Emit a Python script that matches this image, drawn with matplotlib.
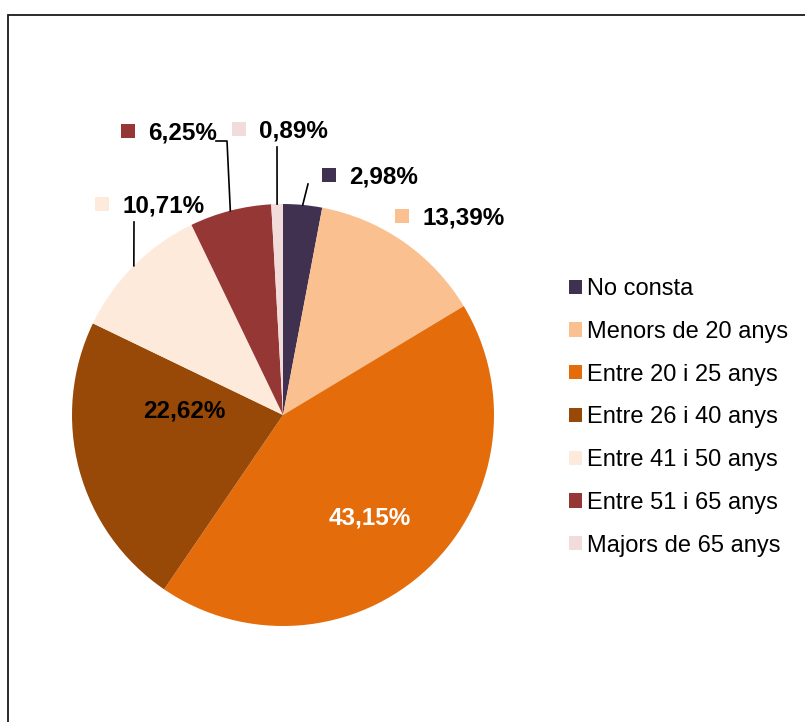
import numpy as np
import matplotlib.pyplot as plt
from matplotlib.patches import Rectangle, Patch

categories = ["No consta", "Menors de 20 anys", "Entre 20 i 25 anys",
              "Entre 26 i 40 anys", "Entre 41 i 50 anys",
              "Entre 51 i 65 anys", "Majors de 65 anys"]
values = [2.98, 13.39, 43.15, 22.62, 10.71, 6.25, 0.89]
labels = ["2,98%", "13,39%", "43,15%", "22,62%", "10,71%", "6,25%", "0,89%"]
colors = ["#403151", "#FAC090", "#E46C0A", "#984807",
          "#FDEADA", "#953735", "#F2DCDB"]

W, H = 805, 722
fig = plt.figure(figsize=(W / 100, H / 100), dpi=100)
plt.rcParams['font.family'] = ['Liberation Sans', 'DejaVu Sans']

# pie centre (283, 415) px, radius 211 px
cx, cy, r = 283, 415, 211
ax = fig.add_axes([(cx - r) / W, (H - cy - r) / H, 2 * r / W, 2 * r / H])
wedges, _ = ax.pie(values, colors=colors, startangle=90, counterclock=False,
                   radius=1, wedgeprops=dict(linewidth=0))
ax.set_xlim(-1, 1)
ax.set_ylim(-1, 1)
ax.set_aspect('equal')
ax.axis('off')


def px(x, y):
    return ((x - cx) / r, (cy - y) / r)


# outside labels: (text left x, centre y) in pixels, leader line or not
outside = {0: (349, 177, True), 1: (422, 218, False), 4: (122, 206, True),
           5: (148, 133, True), 6: (259, 131, True)}
fs = 17.5
for i, (tx, ty, leader) in outside.items():
    w = wedges[i]
    mid = np.deg2rad((w.theta1 + w.theta2) / 2)
    edge = (np.cos(mid), np.sin(mid))
    ax.text(*px(tx, ty), labels[i], fontsize=fs, fontweight='bold',
            ha='left', va='center', clip_on=False)
    sq = Rectangle(px(tx - 27, ty + 5), 14 / r, 14 / r, facecolor=colors[i],
                   edgecolor='none', clip_on=False)
    ax.add_patch(sq)
    if leader:
        if i == 0:
            start = px(308, 184)
            ax.plot([start[0], edge[0]], [start[1], edge[1]], color='black',
                    lw=1.2, clip_on=False)
        elif i == 6:
            start = px(277, 147)
            ax.plot([start[0], edge[0]], [start[1], edge[1]], color='black',
                    lw=1.2, clip_on=False)
        elif i == 5:
            a = px(216, 141)
            b = px(227, 141)
            ax.plot([a[0], b[0], edge[0]], [a[1], b[1], edge[1]],
                    color='black', lw=1.2, clip_on=False)
        elif i == 4:
            start = px(134, 222)
            ax.plot([start[0], edge[0]], [start[1], edge[1]], color='black',
                    lw=1.2, clip_on=False)

ax.text(*px(370, 518), labels[2], fontsize=fs, fontweight='bold',
        color='white', ha='center', va='center')
ax.text(*px(184, 411), labels[3], fontsize=fs, fontweight='bold',
        color='black', ha='center', va='center')

handles = [Patch(facecolor=c, edgecolor='none') for c in colors]
fig.legend(handles, categories, loc='upper left',
           bbox_to_anchor=(569 / W, (H - 278) / H), frameon=False,
           fontsize=17, handlelength=0.55, handleheight=0.55,
           handletextpad=0.22, labelspacing=0.88, borderpad=0,
           borderaxespad=0)

fig.add_artist(Rectangle((8 / W, -0.05), 1.2, (H - 15) / H + 0.05,
                         transform=fig.transFigure, fill=False,
                         edgecolor='#1a1a1a', linewidth=1.3))

fig.savefig("out.png", dpi=100)
